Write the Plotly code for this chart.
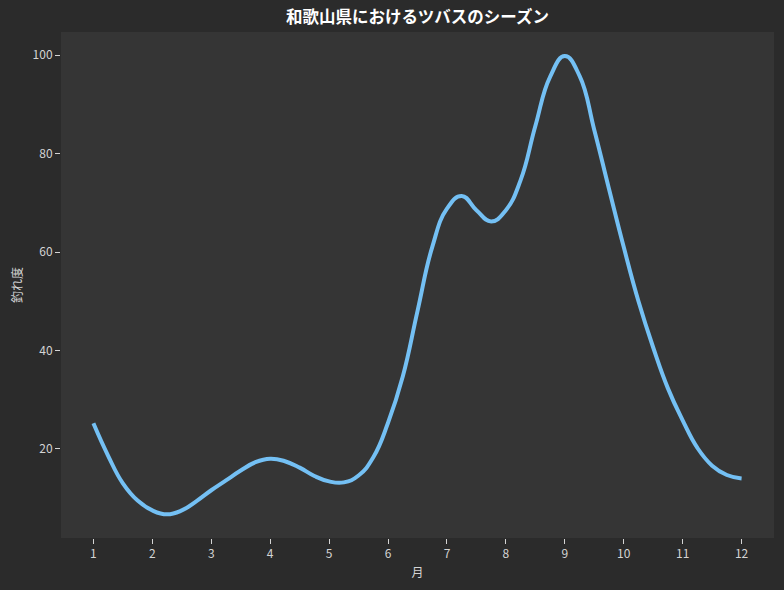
import plotly.graph_objects as go

# Values (month, 釣れ度)
months = [1.00, 1.25, 1.50, 1.75, 2.00, 2.25, 2.50, 2.75, 3.00, 3.25, 3.50, 3.75,
          4.00, 4.25, 4.50, 4.75, 5.00, 5.25, 5.50, 5.75, 6.00, 6.25, 6.50, 6.75,
          7.00, 7.25, 7.50, 7.75, 8.00, 8.25, 8.50, 8.75, 9.00, 9.25, 9.50, 9.75,
          10.00, 10.25, 10.50, 10.75, 11.00, 11.25, 11.50, 11.75, 12.00]
catch_level = [25.2, 18.6, 13.0, 9.5, 7.5, 6.7, 7.5, 9.4, 11.6, 13.6, 15.6, 17.3,
               18.0, 17.5, 16.2, 14.5, 13.4, 13.2, 14.6, 18.3, 25.3, 34.7, 48.0, 61.0,
               68.8, 71.4, 68.5, 66.2, 68.5, 74.6, 85.6, 95.6, 99.8, 95.8, 84.8, 72.8,
               61.0, 50.0, 40.6, 32.3, 25.8, 20.2, 16.6, 14.7, 14.0]
x_ticks = [1, 2, 3, 4, 5, 6, 7, 8, 9, 10, 11, 12]
y_ticks = [20, 40, 60, 80, 100]

title_text = "和歌山県におけるツバスのシーズン"
x_title = "月"
y_title = "釣れ度"

FONT = "Noto Sans CJK JP"
TXT = "#d4d4d4"

fig = go.Figure()
fig.add_trace(go.Scatter(
    x=months, y=catch_level, mode="lines",
    line=dict(color="#74c0f4", width=4, shape="spline", smoothing=1.3),
    hoverinfo="x+y", showlegend=False,
))

fig.update_layout(
    width=784, height=590,
    paper_bgcolor="#2b2b2b", plot_bgcolor="#353535",
    margin=dict(l=61, r=10, t=32, b=52),
    font=dict(family=FONT, color=TXT, size=12),
    title=dict(text="<b>" + title_text + "</b>", x=0.5, xref="paper",
               y=1 - 17 / 590, yref="container", yanchor="middle",
               font=dict(family=FONT, size=16.5, color="#ffffff")),
    showlegend=False,
)

fig.update_xaxes(
    range=[0.45, 12.55], tickmode="array", tickvals=x_ticks,
    ticktext=[str(v) for v in x_ticks],
    showgrid=False, zeroline=False, showline=False,
    ticks="outside", ticklen=5, tickwidth=1, tickcolor=TXT,
    tickfont=dict(family=FONT, size=12, color=TXT),
    title=dict(text=x_title, font=dict(family=FONT, size=12, color=TXT), standoff=8),
)
fig.update_yaxes(
    range=[1.9, 104.7], tickmode="array", tickvals=y_ticks,
    ticktext=[str(v) for v in y_ticks],
    showgrid=False, zeroline=False, showline=False,
    ticks="outside", ticklen=5, tickwidth=1, tickcolor=TXT,
    tickfont=dict(family=FONT, size=12, color=TXT),
    title=dict(text=y_title, font=dict(family=FONT, size=12, color=TXT), standoff=7),
)

fig.write_html("out.html")
